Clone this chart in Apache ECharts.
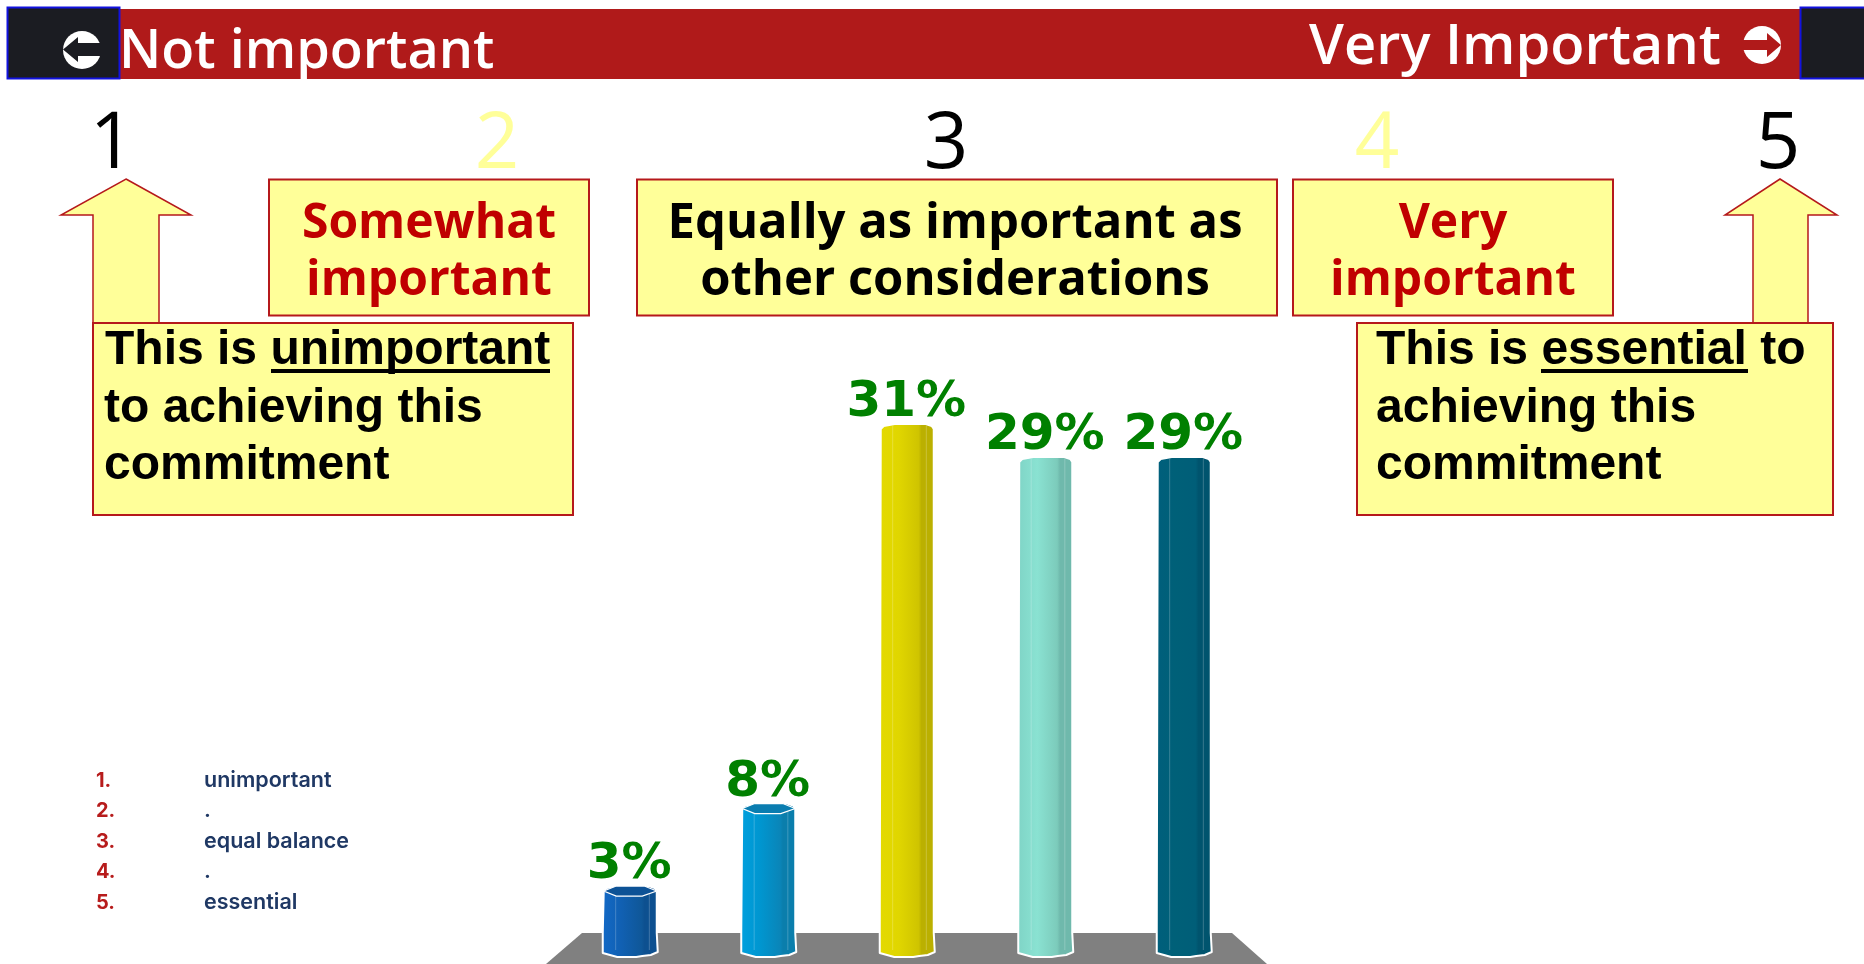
<!DOCTYPE html>
<html>
<head>
<meta charset="utf-8">
<style>html,body{margin:0;padding:0;background:#fff}#c{width:1864px;height:964px}</style>
<script src="https://cdn.jsdelivr.net/npm/echarts@6/dist/echarts.min.js"></script>
</head>
<body>
<div id="c"></div>
<script>
const categories = ['1', '2', '3', '4', '5'];
const percentValues = [3, 8, 31, 29, 29];
const legendNumbers = ['1.', '2.', '3.', '4.', '5.'];
const legendTexts = ['unimportant', '.', 'equal balance', '.', 'essential'];
const barColors = [
  ['#1269C7', '#1160B2', '#0F5798', '#0D5090'],
  ['#00A0DE', '#0096D0', '#0A85B8', '#0A7EAC'],
  ['#E4DA00', '#E0D600', '#CFC400', '#BBB000'],
  ['#7FD4C6', '#8AE2D2', '#7CCBBB', '#6FB9AC'],
  ['#005F7C', '#006078', '#005E78', '#00546E']
];
const capColors = ['#0D5296', '#0A7DB0', '#DDD300', '#84D8C9', '#00597A'];

const RED = '#B01A1A', DARK = '#1B1C22', YEL = '#FFFF99', BOX = '#B5191B';
const HEAD = '"Open Sans"', ARIAL = '"Liberation Sans"';

function rect(x, y, w, h, fill, stroke, lw) {
  return {type: 'rect', shape: {x, y, width: w, height: h},
    style: {fill, stroke: stroke || null, lineWidth: lw || 0}};
}
function poly(points, fill, stroke, lw) {
  return {type: 'polygon', shape: {points},
    style: {fill, stroke: stroke || null, lineWidth: lw || 0}};
}
// y is the wanted baseline; the text box is anchored at its top, about 0.8em above it
function txt(text, x, y, font, fill, align) {
  const size = parseFloat(font.match(/(\d+(\.\d+)?)px/)[1]);
  return {type: 'text', x, y: y - size * 0.8, z: 5,
    style: {text, font, fill, textAlign: align || 'left'}};
}

const graphics = [
  rect(119, 9, 1682, 70, RED),
  rect(7.5, 7.5, 112, 71, DARK, '#1212E0', 2),
  rect(1800.5, 7.5, 70, 71, DARK, '#1212E0', 2),
  {type: 'circle', shape: {cx: 82, cy: 50, r: 19}, style: {fill: '#fff'}},
  poly([[63, 49.5], [78, 37], [78, 43], [102, 43], [102, 56], [78, 56], [78, 62]], DARK),
  {type: 'circle', shape: {cx: 1762, cy: 45, r: 19}, style: {fill: '#fff'}},
  poly([[1742, 40], [1767, 40], [1767, 33], [1781, 45], [1767, 57], [1767, 50], [1742, 50]], RED),
  txt('Not important', 119, 69, '600 54px ' + HEAD, '#fff'),
  txt('Very Important', 1721, 65, '600 56px ' + HEAD, '#fff', 'right'),
  txt('1', 112, 169, '400 78px ' + HEAD, '#000', 'center'),
  txt('2', 497, 169, '400 78px ' + HEAD, YEL, 'center'),
  txt('3', 946, 169, '400 78px ' + HEAD, '#000', 'center'),
  txt('4', 1377, 169, '400 78px ' + HEAD, YEL, 'center'),
  txt('5', 1778, 169, '400 78px ' + HEAD, '#000', 'center'),
  poly([[126, 179], [191, 215], [159, 215], [159, 323], [93, 323], [93, 215], [61, 215]], YEL, BOX, 1.5),
  poly([[1780, 179], [1837, 215], [1808, 215], [1808, 323], [1753, 323], [1753, 215], [1725, 215]], YEL, BOX, 1.5),
  rect(269, 179.5, 320, 136, YEL, BOX, 2),
  txt('Somewhat', 429, 239, 'bold 48px ' + HEAD, '#C00000', 'center'),
  txt('important', 429, 296, 'bold 48px ' + HEAD, '#C00000', 'center'),
  rect(637, 179.5, 640, 136, YEL, BOX, 2),
  txt('Equally as important as', 955, 239, 'bold 49px ' + HEAD, '#000', 'center'),
  txt('other considerations', 955, 296, 'bold 49px ' + HEAD, '#000', 'center'),
  rect(1293, 179.5, 320, 136, YEL, BOX, 2),
  txt('Very', 1453, 239, 'bold 48px ' + HEAD, '#C00000', 'center'),
  txt('important', 1453, 296, 'bold 48px ' + HEAD, '#C00000', 'center'),
  rect(93, 323, 480, 192, YEL, BOX, 2),
  txt('This is unimportant', 105, 365, 'bold 48px ' + ARIAL, '#000'),
  rect(271, 369, 279, 4, '#000'),
  txt('to achieving this', 104, 423, 'bold 48px ' + ARIAL, '#000'),
  txt('commitment', 104, 480, 'bold 48px ' + ARIAL, '#000'),
  rect(1357, 323, 476, 192, YEL, BOX, 2),
  txt('This is essential to', 1376, 365, 'bold 48px ' + ARIAL, '#000'),
  rect(1541, 369, 207, 4, '#000'),
  txt('achieving this', 1376, 423, 'bold 48px ' + ARIAL, '#000'),
  txt('commitment', 1376, 480, 'bold 48px ' + ARIAL, '#000'),
  poly([[582, 933], [1232, 933], [1267, 964], [546, 964]], '#808080')
];
const legendY = [787, 817, 848, 878, 909];
legendNumbers.forEach((n, i) => {
  graphics.push(txt(n, 96, legendY[i], '700 20px Inter', '#B71C1C'));
  graphics.push(txt(legendTexts[i], 204, legendY[i], '600 21.5px Inter', '#1F3864'));
});

function renderBar(params, api) {
  const idx = api.value(0), v = api.value(1);
  const top = api.coord([idx, v]);
  const base = api.coord([idx, -1.3]);
  const cx = top[0], hw = 26.5, t = top[1], b = base[1];
  const cols = barColors[idx];
  const fill = new echarts.graphic.LinearGradient(0, 0, 1, 0, [
    {offset: 0, color: cols[0]}, {offset: 0.35, color: cols[1]},
    {offset: 0.7, color: cols[2]}, {offset: 0.75, color: cols[3]}, {offset: 1, color: cols[3]}
  ]);
  const kids = [];
  const body = [[cx - hw, t + 5], [cx - hw + 3, t + 2], [cx - hw + 14, t], [cx + hw - 8, t], [cx + hw - 2, t + 2], [cx + hw, t + 5],
    [cx + hw, 933], [cx + hw + 1, 952], [cx + hw - 6, 955], [cx + 12, b - 1], [cx + 6, b], [cx - 13, b], [cx - hw - 1, 953], [cx - hw - 1, 933]];
  kids.push({type: 'polygon', shape: {points: body}, style: {fill, stroke: '#fff', lineWidth: 2, lineJoin: 'round'}});
  [-0.55, 0.72].forEach(f => {
    kids.push({type: 'line', shape: {x1: cx + hw * f, y1: t + 2, x2: cx + hw * f, y2: 950},
      style: {stroke: 'rgba(255,255,255,0.22)', lineWidth: 1}});
  });
  if (v < 15) {
    kids.push({type: 'polygon', shape: {points: [[cx - hw, t + 5], [cx - 14, t], [cx + 14, t], [cx + hw, t + 5], [cx + 12, t + 10], [cx - 14, t + 10]]},
      style: {fill: capColors[idx], stroke: '#fff', lineWidth: 1.2}});
  }
  kids.push({type: 'text', x: cx - 1, y: t - 6 - 50 * 0.8, style: {
    text: v + '%', font: 'bold 50px "DejaVu Sans"', fill: '#008000', textAlign: 'center'}});
  return {type: 'group', children: kids};
}

const chart = echarts.init(document.getElementById('c'), null, {renderer: 'canvas'});
chart.setOption({
  animation: false,
  backgroundColor: '#fff',
  graphic: {elements: graphics},
  grid: {left: 561, top: 358, width: 692.5, height: 599},
  xAxis: {type: 'category', data: categories, show: false},
  yAxis: {type: 'value', min: -1.3, max: 35, show: false},
  series: [{
    type: 'custom',
    coordinateSystem: 'cartesian2d',
    data: percentValues.map((v, i) => [i, v]),
    encode: {x: 0, y: 1},
    renderItem: renderBar,
    z: 3
  }]
});
</script>
</body>
</html>
